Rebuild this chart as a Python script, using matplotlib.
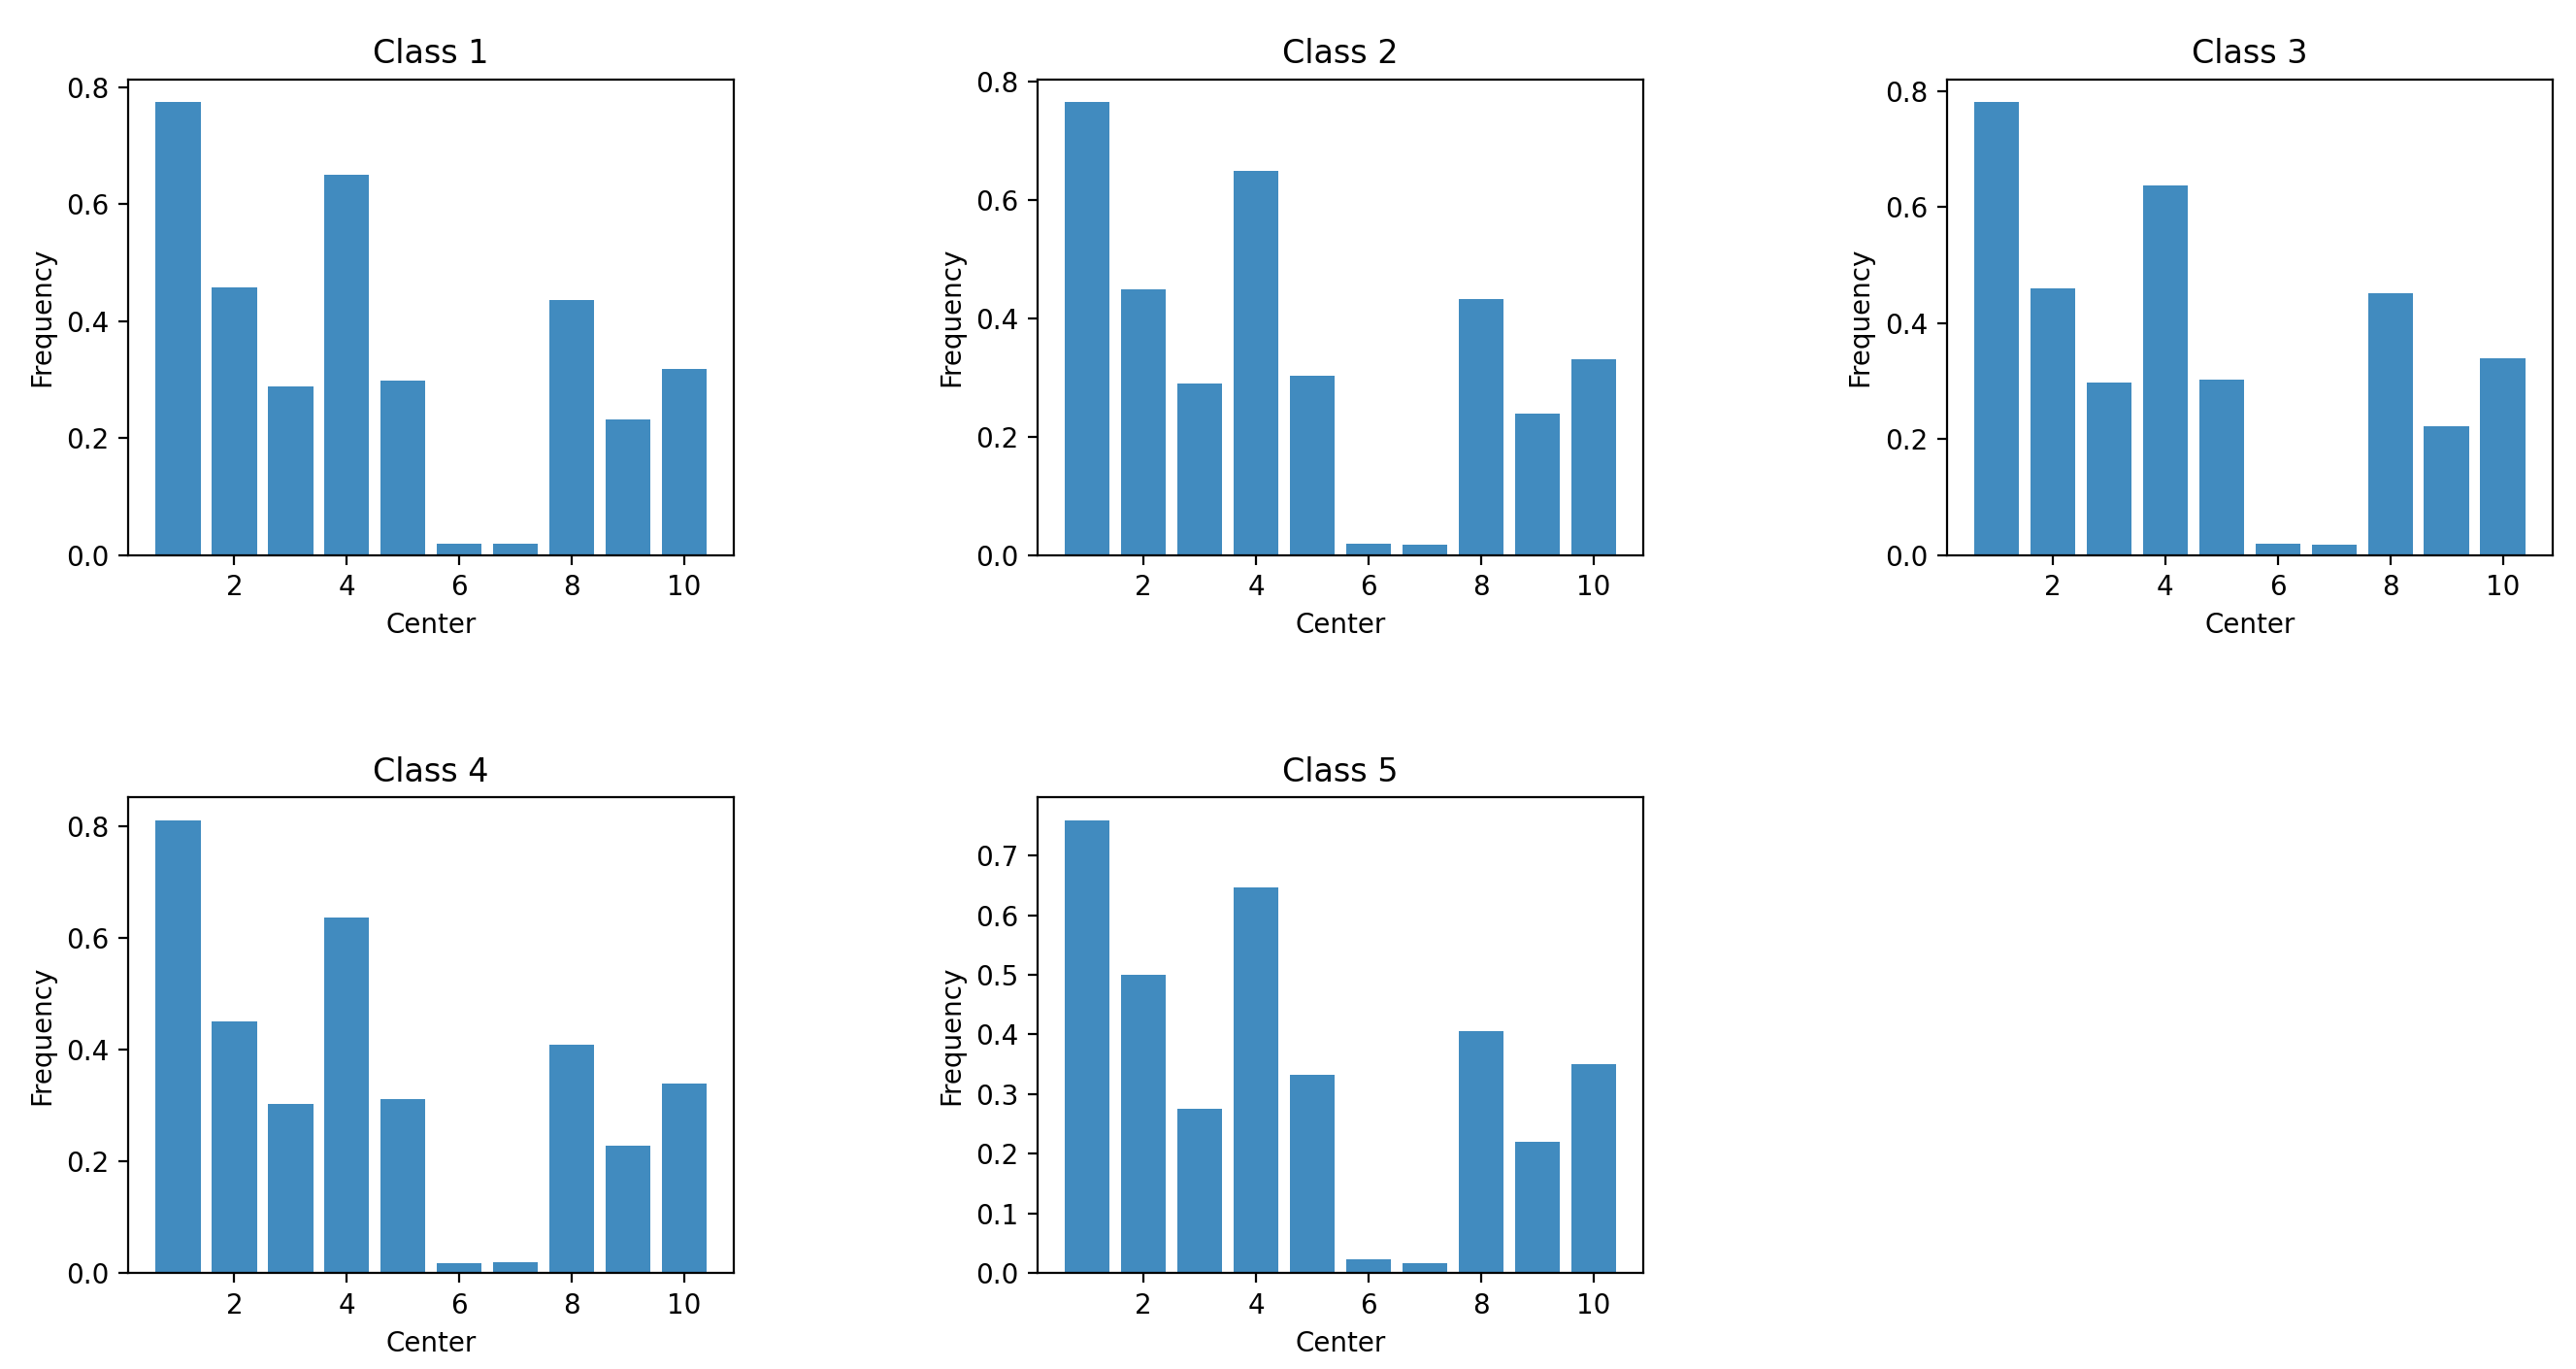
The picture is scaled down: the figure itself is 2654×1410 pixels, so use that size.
import numpy as np
import matplotlib
matplotlib.use("Agg")
import matplotlib.pyplot as plt

centers = np.arange(1, 11)

class1 = [0.775, 0.458, 0.288, 0.650, 0.299, 0.019, 0.019, 0.437, 0.232, 0.319]
class2 = [0.765, 0.448, 0.290, 0.649, 0.303, 0.019, 0.017, 0.433, 0.239, 0.331]
class3 = [0.781, 0.459, 0.298, 0.637, 0.303, 0.019, 0.017, 0.451, 0.222, 0.340]
class4 = [0.811, 0.450, 0.303, 0.637, 0.311, 0.018, 0.020, 0.409, 0.228, 0.339]
class5 = [0.759, 0.500, 0.275, 0.647, 0.332, 0.023, 0.016, 0.405, 0.220, 0.351]

titles = ["Class 1", "Class 2", "Class 3", "Class 4", "Class 5"]
freqs = [class1, class2, class3, class4, class5]

fig, axes = plt.subplots(2, 3, figsize=(13.27, 7.05), dpi=200)
fig.subplots_adjust(left=0.0497, right=0.991, top=0.942, bottom=0.070,
                    wspace=0.5, hspace=0.51)
axes = axes.ravel()

for i, (title, f) in enumerate(zip(titles, freqs)):
    ax = axes[i]
    ax.bar(centers, f, color="C0", alpha=0.85)
    ax.set_title(title)
    ax.set_xlabel("Center")
    ax.set_ylabel("Frequency")
    ax.set_xticks([2, 4, 6, 8, 10])

# only five classes, last slot stays empty
axes[5].axis("off")

fig.savefig("out.png", dpi=200)
